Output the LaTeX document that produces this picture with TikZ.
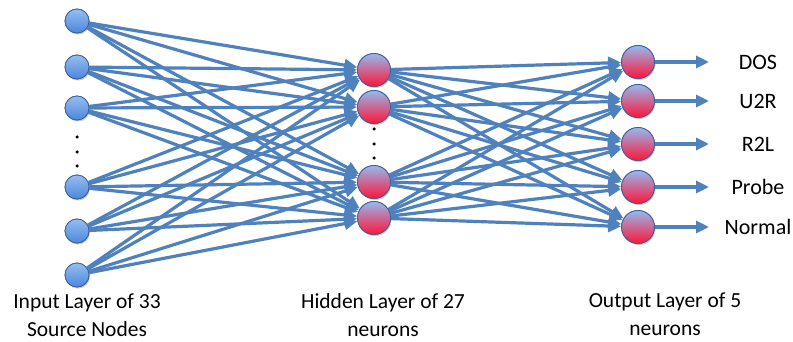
\documentclass[tikz,border=0pt]{standalone}
\usepackage{fontspec}
\setmainfont{Carlito}
\usetikzlibrary{arrows.meta,shadows}
\definecolor{edgeblue}{RGB}{79,129,189}
\definecolor{rimblue}{RGB}{60,95,160}
\definecolor{inTop}{RGB}{150,190,240}
\definecolor{inBot}{RGB}{75,135,220}
\definecolor{hTop}{RGB}{150,185,238}
\definecolor{hBot}{RGB}{255,20,55}
\tikzset{
  inp/.style={circle,draw=rimblue,line width=0.8pt,minimum size=24pt,inner sep=0pt,top color=inTop,bottom color=inBot,drop shadow={opacity=0.25,shadow xshift=1pt,shadow yshift=-1.5pt}},
  neu/.style={circle,draw=rimblue,line width=0.8pt,minimum size=33pt,inner sep=0pt,top color=hTop,bottom color=hBot,middle color=hTop!50!hBot,drop shadow={opacity=0.25,shadow xshift=1pt,shadow yshift=-1.5pt}},
  conn/.style={draw=edgeblue,line width=3.2pt,-{Triangle[length=13pt,width=12pt]}},
  dot/.style={circle,fill=black,inner sep=0pt,minimum size=3.5pt},
  lbl/.style={font=\fontsize{21.5}{28}\selectfont,align=center,inner sep=0pt},
  olbl/.style={font=\fontsize{22}{24}\selectfont,inner sep=0pt},
}
\begin{document}
\begin{tikzpicture}[x=1pt,y=-1pt]
\useasboundingbox (0,0) rectangle (793,342);
% input nodes
\foreach \n/\y in {1/21,2/67,3/108,4/187,5/231,6/275}{
  \node[inp] (i\n) at (77,\y) {};
}
% hidden nodes
\foreach \n/\y in {1/70,2/107,3/182,4/218}{
  \node[neu] (h\n) at (374,\y) {};
}
% output nodes
\foreach \n/\y in {1/62,2/101,3/144,4/187,5/227}{
  \node[neu] (o\n) at (638,\y) {};
}
% connections
\foreach \a in {1,...,6}{
  \foreach \b in {1,...,4}{
    \draw[conn] (i\a) -- (h\b);
  }
}
\foreach \a in {1,...,4}{
  \foreach \b in {1,...,5}{
    \draw[conn] (h\a) -- (o\b);
  }
}
% redraw nodes on top
\foreach \n/\y in {1/21,2/67,3/108,4/187,5/231,6/275}{
  \node[inp] at (77,\y) {};
}
\foreach \n/\y in {1/70,2/107,3/182,4/218}{
  \node[neu] at (374,\y) {};
}
\foreach \n/\y in {1/62,2/101,3/144,4/187,5/227}{
  \node[neu] at (638,\y) {};
}
% outputs
\foreach \n/\y/\t in {1/62/DOS,2/101/U2R,3/144/R2L,4/187/Probe,5/227/Normal}{
  \coordinate (e\n) at (709,\y);
  \draw[conn] (o\n) -- (e\n);
  \node[olbl] (t\n) at (758,\y) {\t};
}
% dots
\foreach \y in {137,152,166}{ \node[dot] at (77,\y) {}; }
\foreach \y in {129,144,158}{ \node[dot] at (374,\y) {}; }
% labels
\node[lbl] (L1) at (87,315) {Input Layer of 33\\Source Nodes};
\node[lbl] (L2) at (383,315) {Hidden Layer of 27\\neurons};
\node[lbl] (L3) at (665,314) {Output Layer of 5\\neurons};
\end{tikzpicture}
\end{document}
